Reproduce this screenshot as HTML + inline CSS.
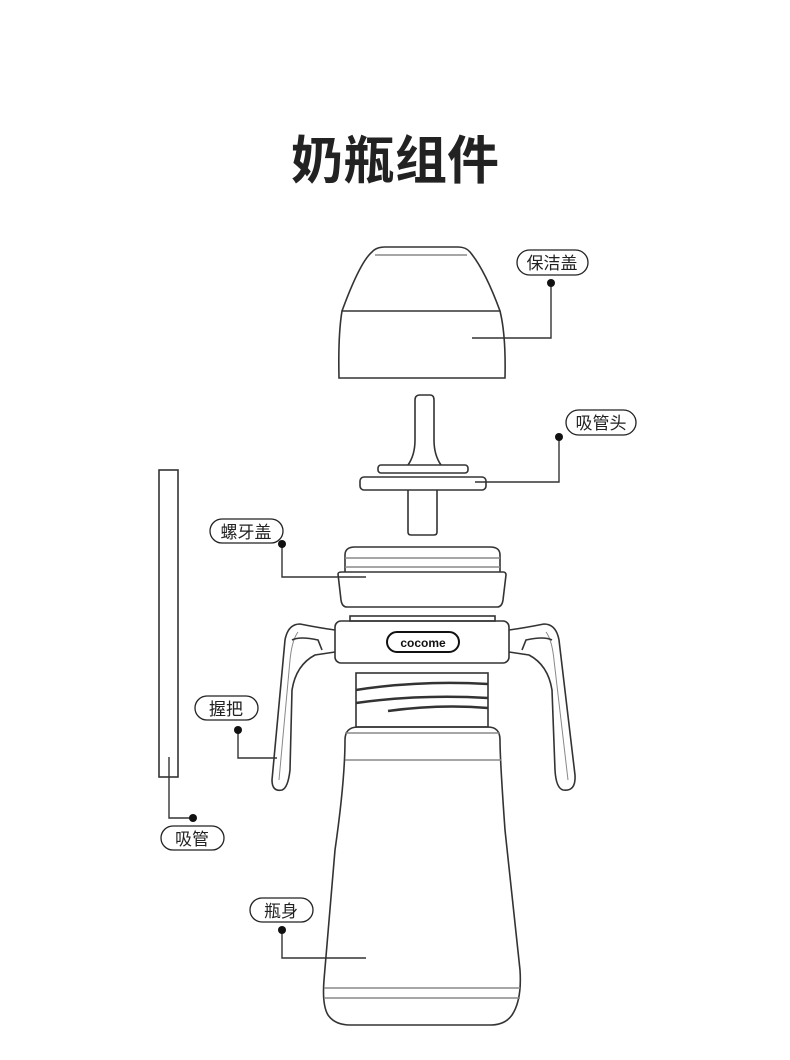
<!DOCTYPE html>
<html><head><meta charset="utf-8"><style>
html,body{margin:0;padding:0;background:#fff;}
svg{display:block}
text{font-family:"Liberation Sans","Noto Sans CJK SC",sans-serif;}
</style></head><body>
<svg width="790" height="1060" viewBox="0 0 790 1060" xmlns="http://www.w3.org/2000/svg">
<text x="395" y="179" text-anchor="middle" font-size="52" font-weight="bold" fill="#222">奶瓶组件</text>
<g fill="none" stroke="#333" stroke-width="1.6">
<!-- cap -->
<path d="M342,311 Q360,262 372,252 Q376,247 385,247 L458,247 Q466,247 470,252 Q485,270 500,311"/>
<line x1="375" y1="255" x2="467" y2="255" stroke="#888"/>
<path d="M342,311 L500,311 Q506,335 505,378 L339,378 Q338,335 342,311 Z"/>
<!-- nipple -->
<path d="M408,465 Q415,455 415,440 L415,400 Q415,395 420,395 L430,395 Q434,395 434,400 L434,440 Q434,455 441,465"/>
<rect x="378" y="465" width="90" height="8" rx="3"/>
<rect x="360" y="477" width="126" height="13" rx="4"/>
<path d="M408,490 L408,532 Q408,535 411,535 L434,535 Q437,535 437,532 L437,490"/>
<!-- screw cap -->
<path d="M345,572 L345,555 Q345,547 355,547 L490,547 Q500,547 500,555 L500,572"/>
<line x1="345" y1="558" x2="500" y2="558" stroke="#888"/>
<line x1="345" y1="567" x2="500" y2="567" stroke="#888"/>
<path d="M338,574 Q338,572 342,572 L503,572 Q506,572 506,575 L503,600 Q502,607 497,607 L347,607 Q342,607 341,600 Z"/>
<!-- collar -->
<rect x="350" y="616" width="145" height="5"/>
<rect x="335" y="621" width="174" height="42" rx="6"/>
<rect x="387" y="632" width="72" height="20" rx="10" stroke="#111" stroke-width="2"/>
<!-- handles -->
<path d="M335,630 Q320,628 300,624 Q288,624 285,640 L272,780 Q272,792 282,790 Q288,788 290,770 L292,690 Q296,665 315,655 L335,652"/>
<path d="M298,632 Q292,640 290,660 L279,780" stroke="#888" stroke-width="1"/>
<path d="M292,640 Q300,636 318,640 L322,650"/>
<path d="M509,630 Q524,628 544,624 Q556,624 559,640 L575,775 Q576,792 563,790 Q556,788 555,770 L552,690 Q548,665 529,655 L509,652"/>
<path d="M546,632 Q552,640 554,660 L568,780" stroke="#888" stroke-width="1"/>
<path d="M552,640 Q544,636 526,640 L522,650"/>
<!-- neck & threads -->
<rect x="356" y="673" width="132" height="54"/>
<path d="M356,690 Q420,680 488,684" stroke-width="2.5"/>
<path d="M356,703 Q420,694 488,698" stroke-width="2.5"/>
<path d="M388,711 Q440,704 488,708" stroke-width="2.5"/>
<!-- body -->
<path d="M345,740 Q345,727 358,727 L488,727 Q500,727 500,740 Q500,760 505,830 L520,970 Q522,1000 512,1015 Q505,1025 490,1025 L350,1025 Q335,1025 328,1015 Q322,1005 324,980 L335,850 Q345,780 345,740 Z"/>
<line x1="345" y1="733" x2="500" y2="733" stroke="#888"/>
<line x1="345" y1="760" x2="501" y2="760" stroke="#888"/>
<line x1="324" y1="988" x2="520" y2="988" stroke="#888"/>
<line x1="324" y1="998" x2="520" y2="998" stroke="#888"/>
<!-- straw -->
<rect x="159" y="470" width="19" height="307"/>
</g>
<!-- leader lines -->
<g fill="none" stroke="#333" stroke-width="1.4">
<path d="M551,283 L551,338 L472,338"/>
<path d="M559,437 L559,482 L475,482"/>
<path d="M282,544 L282,577 L366,577"/>
<path d="M238,730 L238,758 L277,758"/>
<path d="M169,757 L169,818 L193,818"/>
<path d="M282,930 L282,958 L366,958"/>
</g>
<g fill="#111">
<circle cx="551" cy="283" r="4"/><circle cx="559" cy="437" r="4"/>
<circle cx="282" cy="544" r="4"/><circle cx="238" cy="730" r="4"/>
<circle cx="193" cy="818" r="4"/><circle cx="282" cy="930" r="4"/>
</g>
<g fill="#fff" stroke="#222" stroke-width="1.3">
<rect x="517" y="250" width="71" height="25" rx="12.5"/>
<rect x="566" y="410" width="70" height="25" rx="12.5"/>
<rect x="210" y="519" width="73" height="24" rx="12"/>
<rect x="195" y="696" width="63" height="24" rx="12"/>
<rect x="161" y="826" width="63" height="24" rx="12"/>
<rect x="250" y="898" width="63" height="24" rx="12"/>
</g>
<g font-size="17" fill="#222" text-anchor="middle">
<text x="552" y="269">保洁盖</text>
<text x="601" y="429">吸管头</text>
<text x="246" y="538">螺牙盖</text>
<text x="226" y="715">握把</text>
<text x="192" y="845">吸管</text>
<text x="281" y="917">瓶身</text>
</g>
<text x="423" y="647" text-anchor="middle" font-size="12" font-weight="bold" fill="#111">cocome</text>
</svg>
</body></html>
